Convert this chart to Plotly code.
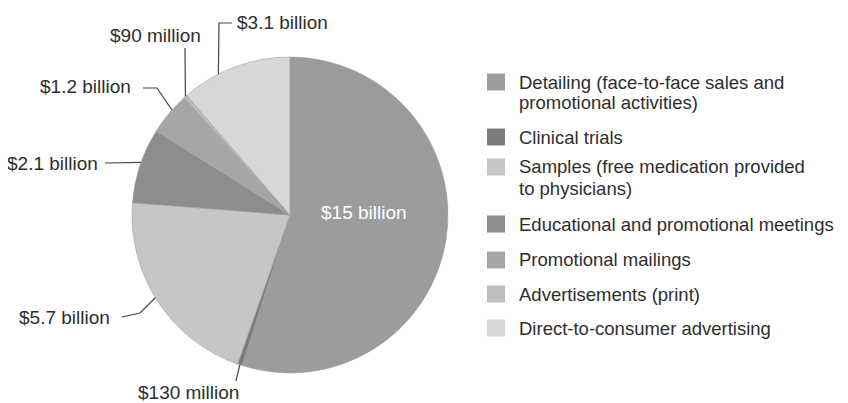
import math
import plotly.graph_objects as go

# ---- data ----
categories = [
    "Detailing (face-to-face sales and<br>promotional activities)",
    "Clinical trials",
    "Samples (free medication provided<br>to physicians)",
    "Educational and promotional meetings",
    "Promotional mailings",
    "Advertisements (print)",
    "Direct-to-consumer advertising",
]
values_billion = [15.0, 0.13, 5.7, 2.1, 1.2, 0.09, 3.1]
value_labels = ["$15 billion", "$130 million", "$5.7 billion", "$2.1 billion",
                "$1.2 billion", "$90 million", "$3.1 billion"]
colors = ["#9c9c9c", "#7c7c7c", "#c6c6c6", "#8d8d8d", "#a6a6a6", "#bdbdbd", "#d7d7d7"]

# page has an 8px body margin: figure sits at (8, 8)
OFF = 8
W, H = 848 - OFF, 403 - OFF
FONT = "Liberation Sans, Arial, Helvetica, sans-serif"
TXT = "#2e2e2e"
FS = 19
FS_LEG = 18.5

def X(px):
    return (px - OFF) / W

def Y(py):
    return 1 - (py - OFF) / H

# pie geometry (page pixels)
CX, CY, R = 290, 215, 158

fig = go.Figure(go.Pie(
    labels=categories,
    values=values_billion,
    sort=False,
    direction="clockwise",
    rotation=0,
    marker=dict(colors=colors, line=dict(color="#a0a0a0", width=0.6)),
    textinfo="none",
    hoverinfo="label+value",
    showlegend=False,
    domain=dict(x=[X(CX - R), X(CX + R)], y=[Y(CY + R), Y(CY - R)]),
))

shapes = []
annotations = []

# anchor points on the rim, computed from cumulative values
total = sum(values_billion)
cum = [0]
for v in values_billion:
    cum.append(cum[-1] + v)

def rim_point(i, frac):
    a = (cum[i] + frac * values_billion[i]) / total * 2 * math.pi
    return CX + R * math.sin(a), CY - R * math.cos(a)

# label placement (layout): index -> (text x, text y, anchor, frac, path points before rim)
label_layout = {
    6: (235, 23, "left", 0.34, [(232, 23), (219, 23)]),
    5: (203, 35, "right", 0.5, [(185, 48)]),
    4: (133, 87, "right", 0.6, [(143, 88), (157, 88)]),
    3: (100, 163, "right", 0.54, [(105, 163)]),
    2: (112, 317, "right", 0.52, [(122, 317), (140, 313)]),
    1: (188, 392, "center", 0.5, [(236, 381)]),
}

for i, (tx, ty, anc, frac, pts) in label_layout.items():
    rx, ry = rim_point(i, frac)
    allpts = pts + [(rx, ry)]
    path = "M " + " L ".join(f"{X(p[0]):.5f},{Y(p[1]):.5f}" for p in allpts)
    shapes.append(dict(type="path", path=path, xref="paper", yref="paper",
                       line=dict(color="#444444", width=1.2)))
    annotations.append(dict(x=X(tx), y=Y(ty), xref="paper", yref="paper",
                            text=value_labels[i], showarrow=False,
                            xanchor=anc, yanchor="middle",
                            font=dict(family=FONT, size=FS, color=TXT)))

# big slice label inside
annotations.append(dict(x=X(364), y=Y(212), xref="paper", yref="paper",
                        text=value_labels[0], showarrow=False,
                        xanchor="center", yanchor="middle",
                        font=dict(family=FONT, size=FS, color="white")))

# legend built from categories/colors
legend_first_line_y = [82, 137, 167, 224, 260, 294, 328]
LINE_GAP = 21
for name, col, y0 in zip(categories, colors, legend_first_line_y):
    shapes.append(dict(type="rect", xref="paper", yref="paper",
                       x0=X(487), x1=X(505), y0=Y(y0 - 8.5), y1=Y(y0 + 8.5),
                       fillcolor=col, line=dict(width=0)))
    for k, line in enumerate(name.split("<br>")):
        annotations.append(dict(x=X(517), y=Y(y0 + k * LINE_GAP), xref="paper", yref="paper",
                                text=line, showarrow=False,
                                xanchor="left", yanchor="middle",
                                font=dict(family=FONT, size=FS_LEG, color=TXT)))

fig.update_layout(
    width=W, height=H,
    margin=dict(l=0, r=0, t=0, b=0),
    paper_bgcolor="white", plot_bgcolor="white",
    shapes=shapes, annotations=annotations,
    showlegend=False,
)

fig.write_html("out.html")
